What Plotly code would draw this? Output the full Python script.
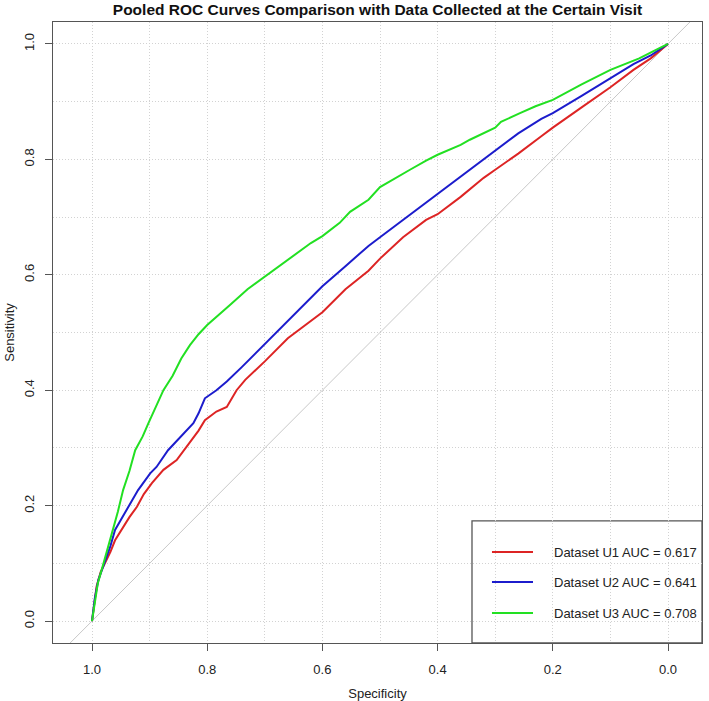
import plotly.graph_objects as go

# Specificity / sensitivity
u1_spec = [1.0, .996, .992, .985, .975, .968, .96, .946, .935, .922, .91, .896, .876, .853, .83, .815, .804, .784, .766, .749, .734, .70, .66, .62, .60, .56, .52, .50, .46, .42, .40, .36, .32, .30, .26, .22, .20, .15, .10, .06, .03, .0]
u1_sens = [0, .035, .06, .085, .106, .12, .14, .163, .18, .198, .22, .239, .262, .279, .311, .33, .348, .363, .371, .40, .418, .45, .49, .52, .535, .575, .607, .628, .665, .695, .705, .735, .768, .782, .81, .84, .855, .89, .925, .955, .975, 1.0]

u2_spec = [1.0, .995, .989, .982, .975, .968, .96, .947, .934, .92, .899, .888, .868, .847, .824, .815, .804, .784, .766, .74, .70, .66, .62, .60, .56, .52, .50, .46, .42, .40, .36, .32, .30, .26, .22, .20, .15, .10, .06, .03, 0]
u2_sens = [0, .04, .071, .09, .111, .13, .158, .18, .204, .227, .256, .267, .296, .319, .343, .36, .386, .40, .415, .44, .48, .52, .56, .58, .615, .65, .665, .695, .725, .74, .77, .80, .815, .845, .87, .88, .91, .94, .965, .98, 1.0]

u3_spec = [1.0, .995, .99, .98, .97, .963, .955, .946, .935, .925, .912, .902, .89, .876, .86, .845, .83, .815, .80, .78, .76, .73, .708, .68, .656, .62, .60, .57, .552, .52, .50, .47, .448, .42, .40, .36, .344, .30, .29, .257, .23, .20, .15, .10, .05, .02, 0]
u3_sens = [0, .035, .065, .1, .135, .158, .19, .227, .26, .296, .32, .343, .37, .40, .425, .455, .478, .497, .513, .53, .548, .575, .591, .61, .629, .655, .667, .69, .709, .73, .752, .77, .782, .798, .808, .825, .834, .855, .865, .88, .892, .903, .93, .955, .975, .99, 1.0]

names = ["Dataset U1 AUC = 0.617", "Dataset U2 AUC = 0.641", "Dataset U3 AUC = 0.708"]
colors = ["#dd2424", "#1c1ccc", "#22e022"]
tick_vals = [0.0, 0.2, 0.4, 0.6, 0.8, 1.0]
tick_text = ["0.0", "0.2", "0.4", "0.6", "0.8", "1.0"]
minor_vals = [0.1, 0.3, 0.5, 0.7, 0.9]
diag_x = [1.2, -0.2]
diag_y = [-0.2, 1.2]

FONT = "Liberation Sans, Arial, sans-serif"
TXT = "#222222"
FRAME = "#555555"

fig = go.Figure()
fig.add_trace(go.Scatter(x=diag_x, y=diag_y, mode="lines",
                         line=dict(color="#c8c8c8", width=1),
                         showlegend=False, hoverinfo="skip"))
for i, (xs, ys) in enumerate([(u1_spec, u1_sens), (u2_spec, u2_sens), (u3_spec, u3_sens)]):
    fig.add_trace(go.Scatter(x=xs, y=ys, mode="lines", name=names[i],
                             showlegend=False,
                             line=dict(color=colors[i], width=2)))

axis_common = dict(
    showline=True, mirror=True, linecolor=FRAME, linewidth=1.3,
    ticks="outside", ticklen=7, tickcolor=FRAME, tickwidth=1,
    tickvals=tick_vals, ticktext=tick_text,
    showgrid=True, gridcolor="#d2d2d2", griddash="1px,2px", gridwidth=1,
    minor=dict(tickvals=minor_vals, showgrid=True,
               gridcolor="#d2d2d2", griddash="1px,2px", gridwidth=1, ticks=""),
    zeroline=False, automargin=False,
    tickfont=dict(family=FONT, size=13, color=TXT),
)

# manual legend (box, line samples, texts) in paper coordinates
leg_rows_y = [0.1465, 0.0982, 0.0483]
shapes = [dict(type="rect", xref="paper", yref="paper",
               x0=0.6456, x1=1.0, y0=0.0, y1=0.1965,
               line=dict(color=FRAME, width=1.3),
               fillcolor="white", layer="below")]
annotations = []
for i, yy in enumerate(leg_rows_y):
    shapes.append(dict(type="line", xref="paper", yref="paper",
                       x0=0.6764, x1=0.7396, y0=yy, y1=yy,
                       line=dict(color=colors[i], width=2), layer="above"))
    annotations.append(dict(xref="paper", yref="paper", x=0.7689, y=yy,
                            xanchor="left", yanchor="middle", showarrow=False,
                            text=names[i],
                            font=dict(family=FONT, size=13, color=TXT)))

fig.update_layout(
    width=709, height=701,
    margin=dict(l=53, r=7, t=22, b=58),
    paper_bgcolor="white", plot_bgcolor="white",
    title=dict(text="<b>Pooled ROC Curves Comparison with Data Collected at the Certain Visit</b>",
               xref="paper", x=0.5, xanchor="center",
               yref="container", y=0.9857, yanchor="middle",
               font=dict(family=FONT, size=15.5, color="#111111")),
    xaxis=dict(range=[1.0677, -0.059], autorange=False,
               title=dict(text="Specificity", standoff=14,
                          font=dict(family=FONT, size=13, color=TXT)),
               ticklabelstandoff=7, **axis_common),
    yaxis=dict(range=[-0.038, 1.038], autorange=False, tickangle=-90,
               title=dict(text="Sensitivity", standoff=4,
                          font=dict(family=FONT, size=13, color=TXT)),
               ticklabelstandoff=6, **axis_common),
    shapes=shapes,
    annotations=annotations,
)

fig.write_html("out.html",
               config={"displayModeBar": False},
               post_script="document.body.style.margin='0px';document.body.style.overflow='hidden';")
